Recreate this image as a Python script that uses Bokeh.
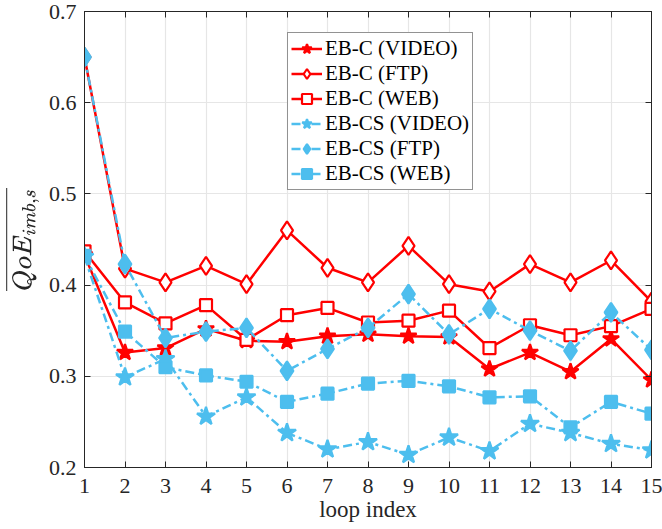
from bokeh.plotting import figure
from bokeh.models import (Range1d, LinearAxis, FixedTicker, Legend, LegendItem,
                          ColumnDataSource)
from bokeh.embed import file_html
from bokeh.resources import INLINE

# loop index and per-scheme QoE imbalance values
loop_index = list(range(1, 16))

ebc_video = [0.433, 0.326, 0.331, 0.352, 0.339, 0.338, 0.344, 0.346, 0.344, 0.343, 0.308, 0.326, 0.305, 0.341, 0.296]
ebc_ftp = [0.650, 0.418, 0.403, 0.421, 0.401, 0.460, 0.419, 0.403, 0.443, 0.401, 0.393, 0.423, 0.403, 0.427, 0.382]
ebc_web = [0.437, 0.381, 0.358, 0.378, 0.340, 0.367, 0.375, 0.359, 0.361, 0.372, 0.331, 0.356, 0.345, 0.355, 0.374]
ebcs_video = [0.431, 0.299, 0.319, 0.256, 0.277, 0.238, 0.220, 0.228, 0.214, 0.233, 0.218, 0.248, 0.238, 0.226, 0.219]
ebcs_ftp = [0.650, 0.423, 0.342, 0.349, 0.353, 0.306, 0.330, 0.353, 0.390, 0.346, 0.374, 0.350, 0.328, 0.370, 0.329]
ebcs_web = [0.432, 0.349, 0.310, 0.301, 0.294, 0.272, 0.281, 0.292, 0.295, 0.289, 0.277, 0.278, 0.244, 0.272, 0.259]

y_ticks = [0.2, 0.3, 0.4, 0.5, 0.6, 0.7]

RED = "#FF0000"
CYAN = "#4DBEEE"
AXIS = "#262626"
FONT = "Liberation Serif"

p = figure(width=662, height=529, output_backend="svg", toolbar_location=None,
           x_range=Range1d(1, 15), y_range=Range1d(0.2, 0.7),
           min_border_left=83, min_border_right=11, min_border_top=11,
           min_border_bottom=62)
p.outline_line_color = AXIS
p.outline_line_width = 1
p.background_fill_color = "white"
p.border_fill_color = "white"

p.xaxis.ticker = FixedTicker(ticks=loop_index)
p.yaxis.ticker = FixedTicker(ticks=y_ticks)
p.yaxis.major_label_overrides = {t: f"{t:.1f}" for t in y_ticks}
for ax in (p.xaxis[0], p.yaxis[0]):
    ax.major_tick_in = 6
    ax.major_tick_out = 0
    ax.minor_tick_line_color = None
    ax.axis_line_color = AXIS
    ax.major_tick_line_color = AXIS
    ax.major_label_text_font = FONT
    ax.major_label_text_font_size = "22px"
    ax.major_label_text_color = AXIS
    ax.axis_label_text_font = FONT
    ax.axis_label_text_font_style = "normal"
    ax.axis_label_text_color = AXIS
p.xaxis.major_label_standoff = 11
p.xaxis.axis_label = "loop index"
p.xaxis.axis_label_text_font_size = "23px"
p.xaxis.axis_label_standoff = 1
p.yaxis.major_label_standoff = 8
p.yaxis.axis_label = r"$$\overline{QoE_{imb,s}}$$"
p.yaxis.axis_label_text_font_size = "25px"
p.yaxis.axis_label_standoff = 7

# mirrored tick marks on the top and right edges (no labels)
top_ax = LinearAxis(ticker=FixedTicker(ticks=loop_index), major_label_text_color=None,
                    major_tick_in=6, major_tick_out=0, minor_tick_line_color=None,
                    axis_line_color=AXIS, major_tick_line_color=AXIS)
right_ax = LinearAxis(ticker=FixedTicker(ticks=y_ticks), major_label_text_color=None,
                      major_tick_in=6, major_tick_out=0, minor_tick_line_color=None,
                      axis_line_color=AXIS, major_tick_line_color=AXIS)
p.add_layout(top_ax, "above")
p.add_layout(right_ax, "right")

p.xgrid.grid_line_color = "#E6E6E6"
p.ygrid.grid_line_color = "#E6E6E6"
p.xgrid.grid_line_width = 1.2
p.ygrid.grid_line_width = 1.2

src = ColumnDataSource(dict(x=loop_index, ebc_video=ebc_video, ebc_ftp=ebc_ftp,
                            ebc_web=ebc_web, ebcs_video=ebcs_video,
                            ebcs_ftp=ebcs_ftp, ebcs_web=ebcs_web))

DASH = "9 4 3 4"
series = [
    ("ebc_video", "EB-C (VIDEO)", RED, "solid", "star", RED, 17),
    ("ebc_ftp", "EB-C (FTP)", RED, "solid", "diamond", "white", 18),
    ("ebc_web", "EB-C (WEB)", RED, "solid", "square", "white", 12),
    ("ebcs_video", "EB-CS (VIDEO)", CYAN, DASH, "star", CYAN, 19),
    ("ebcs_ftp", "EB-CS (FTP)", CYAN, DASH, "diamond", CYAN, 19),
    ("ebcs_web", "EB-CS (WEB)", CYAN, DASH, "square", CYAN, 12),
]

items = []
for col, label, color, dash, marker, fill, size in series:
    ln = p.line("x", col, source=src, line_color=color, line_width=2.5, line_dash=dash)
    sc = p.scatter("x", col, source=src, marker=marker, size=size, line_color=color,
                   fill_color=fill, line_width=2.2)
    items.append(LegendItem(label=label, renderers=[ln, sc]))

legend = Legend(items=items, location=(203, 277), orientation="vertical",
                label_text_font=FONT, label_text_font_size="21px",
                label_text_color="black", border_line_color=AXIS,
                border_line_width=1, background_fill_alpha=1.0,
                glyph_width=31, glyph_height=25, spacing=0, padding=3,
                margin=0, label_standoff=3, label_height=25)
p.add_layout(legend, "center")

open("out.html", "w").write(file_html(p, INLINE))
